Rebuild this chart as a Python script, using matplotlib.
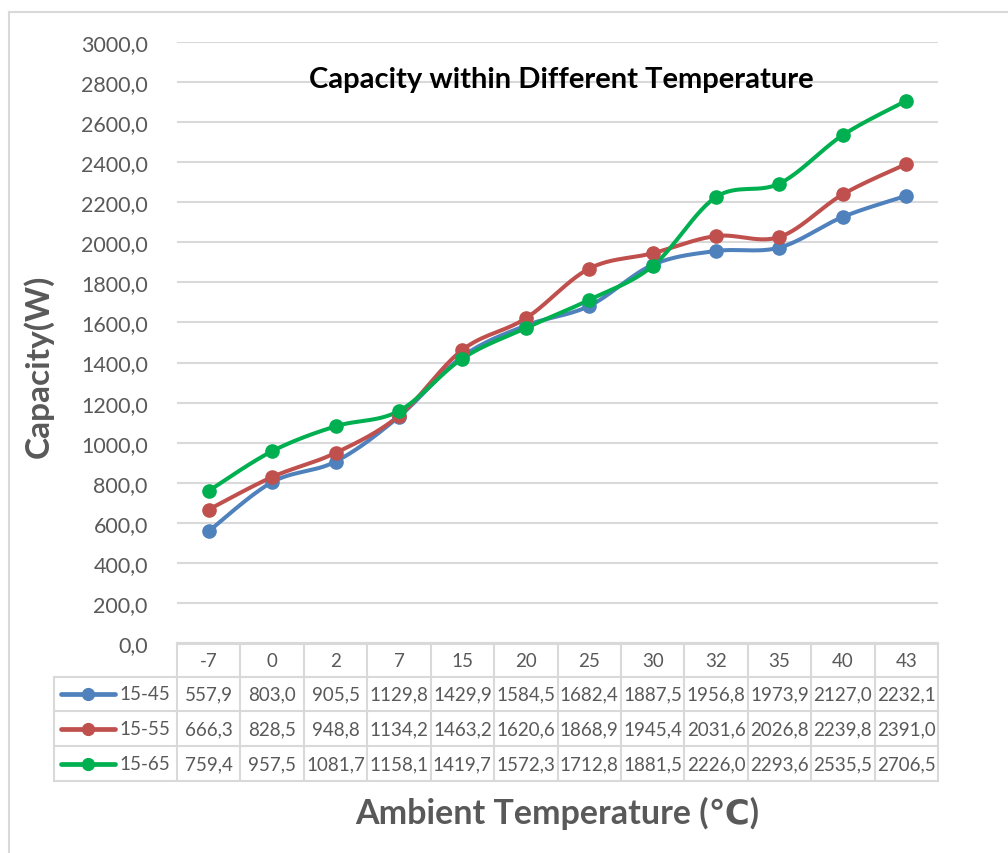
import numpy as np
import matplotlib
matplotlib.use("Agg")
import matplotlib.pyplot as plt
from matplotlib.lines import Line2D

categories = ["-7", "0", "2", "7", "15", "20", "25", "30", "32", "35", "40", "43"]
series_names = ["15-45", "15-55", "15-65"]
s1545 = [557.9, 803.0, 905.5, 1129.8, 1429.9, 1584.5, 1682.4, 1887.5, 1956.8, 1973.9, 2127.0, 2232.1]
s1555 = [666.3, 828.5, 948.8, 1134.2, 1463.2, 1620.6, 1868.9, 1945.4, 2031.6, 2026.8, 2239.8, 2391.0]
s1565 = [759.4, 957.5, 1081.7, 1158.1, 1419.7, 1572.3, 1712.8, 1881.5, 2226.0, 2293.6, 2535.5, 2706.5]
yticks = [0, 200, 400, 600, 800, 1000, 1200, 1400, 1600, 1800, 2000, 2200, 2400, 2600, 2800, 3000]

colors = ["#4f81bd", "#c0504d", "#00b050"]
gray = "#595959"
gridc = "#d9d9d9"
plt.rcParams['font.family'] = ['Lato', 'DejaVu Sans']

W, H = 1008, 854
fig = plt.figure(figsize=(W / 100, H / 100), dpi=100)

def fx(px):
    return px / W

def fy(py):
    return 1 - py / H

# outer chart border (top and left visible)
fig.add_artist(Line2D([fx(9), fx(1008)], [fy(13), fy(13)], color=gridc, lw=1.5))
fig.add_artist(Line2D([fx(9), fx(9)], [fy(13), fy(854)], color=gridc, lw=1.5))

ax_l, ax_r, ax_t, ax_b = 177, 938, 43, 644
ax = fig.add_axes([fx(ax_l), fy(ax_b), fx(ax_r - ax_l), fy(ax_t) - fy(ax_b)])
n = len(categories)
ax.set_xlim(-0.5, n - 0.5)
ax.set_ylim(0, 3000)
ax.set_yticks(yticks)
ax.set_yticklabels([f"{v:.1f}".replace(".", ",") for v in yticks], fontsize=15.5, color=gray)
ax.tick_params(axis='y', length=0, pad=21)
ax.set_xticks([])
for s in ["left", "right", "top"]:
    ax.spines[s].set_visible(False)
ax.spines["bottom"].set_color(gridc)
ax.spines["bottom"].set_linewidth(1.5)
ax.grid(axis='y', color=gridc, lw=1.5)
ax.set_axisbelow(True)

# Excel-like smooth curve (Bezier through the points in pixel space)
xp = np.arange(n)
px_per_x = (ax_r - ax_l) / n
px_per_y = (ax_b - ax_t) / 3000.0

def smooth(xs, ys, steps=30):
    X = np.asarray(xs, float) * px_per_x
    Y = np.asarray(ys, float) * px_per_y
    P = np.column_stack([X, Y])
    out = []
    for i in range(len(P) - 1):
        p0 = P[i - 1] if i > 0 else P[i]
        p1 = P[i]
        p2 = P[i + 1]
        p3 = P[i + 2] if i + 2 < len(P) else P[i + 1]
        c1 = p1 + (p2 - p0) / 6
        c2 = p2 - (p3 - p1) / 6
        t = np.linspace(0, 1, steps)[:, None]
        seg = (1 - t) ** 3 * p1 + 3 * (1 - t) ** 2 * t * c1 + 3 * (1 - t) * t ** 2 * c2 + t ** 3 * p2
        out.append(seg if i == 0 else seg[1:])
    out = np.vstack(out)
    return out[:, 0] / px_per_x, out[:, 1] / px_per_y

for vals, c in zip([s1545, s1555, s1565], colors):
    sx, sy = smooth(xp, vals)
    ax.plot(sx, sy, color=c, lw=2.9, solid_capstyle='round', zorder=3)
    ax.plot(xp, vals, 'o', color=c, ms=9.5, zorder=4)

ax.text(0.505, (ax_b - 80) / (ax_b - ax_t), "Capacity within Different Temperature",
        transform=ax.transAxes, ha='center', va='center', fontsize=21, fontweight='bold',
        color='black')

# data table
rows_y = [645, 678, 712, 747, 782]
tl = dict(color=gridc, lw=1.5)
fig.add_artist(Line2D([fx(ax_l), fx(ax_r)], [fy(645), fy(645)], **tl))
for yy in rows_y[1:]:
    fig.add_artist(Line2D([fx(54), fx(ax_r)], [fy(yy), fy(yy)], **tl))
for i in range(n + 1):
    xx = ax_l + i * px_per_x
    fig.add_artist(Line2D([fx(xx), fx(xx)], [fy(645), fy(782)], **tl))
fig.add_artist(Line2D([fx(54), fx(54)], [fy(678), fy(782)], **tl))

for i, cat in enumerate(categories):
    fig.text(fx(ax_l + (i + 0.5) * px_per_x), fy(661.5), cat, ha='center', va='center',
             fontsize=13.5, color=gray)

for r, (name, vals, c) in enumerate(zip(series_names, [s1545, s1555, s1565], colors)):
    yc = (rows_y[r + 1] + rows_y[r + 2]) / 2
    fig.add_artist(Line2D([fx(61), fx(115)], [fy(yc), fy(yc)], color=c, lw=3.4,
                          solid_capstyle='round'))
    fig.add_artist(Line2D([fx(88)], [fy(yc)], marker='o', color=c, ms=8.5))
    fig.text(fx(119), fy(yc), name, ha='left', va='center', fontsize=13.5, color=gray)
    for i, v in enumerate(vals):
        fig.text(fx(ax_l + (i + 0.5) * px_per_x), fy(yc), f"{v:.1f}".replace(".", ","),
                 ha='center', va='center', fontsize=13.5, color=gray)

fig.text(fx(557), fy(813), "Ambient Temperature (\u2103)", ha='center', va='center',
         fontsize=24.5, fontweight='bold', color=gray)
fig.text(fx(38), fy(366), "Capacity(W)", ha='center', va='center', rotation=90,
         fontsize=24, fontweight='bold', color=gray)

fig.savefig("out.png", dpi=100, facecolor='white')
